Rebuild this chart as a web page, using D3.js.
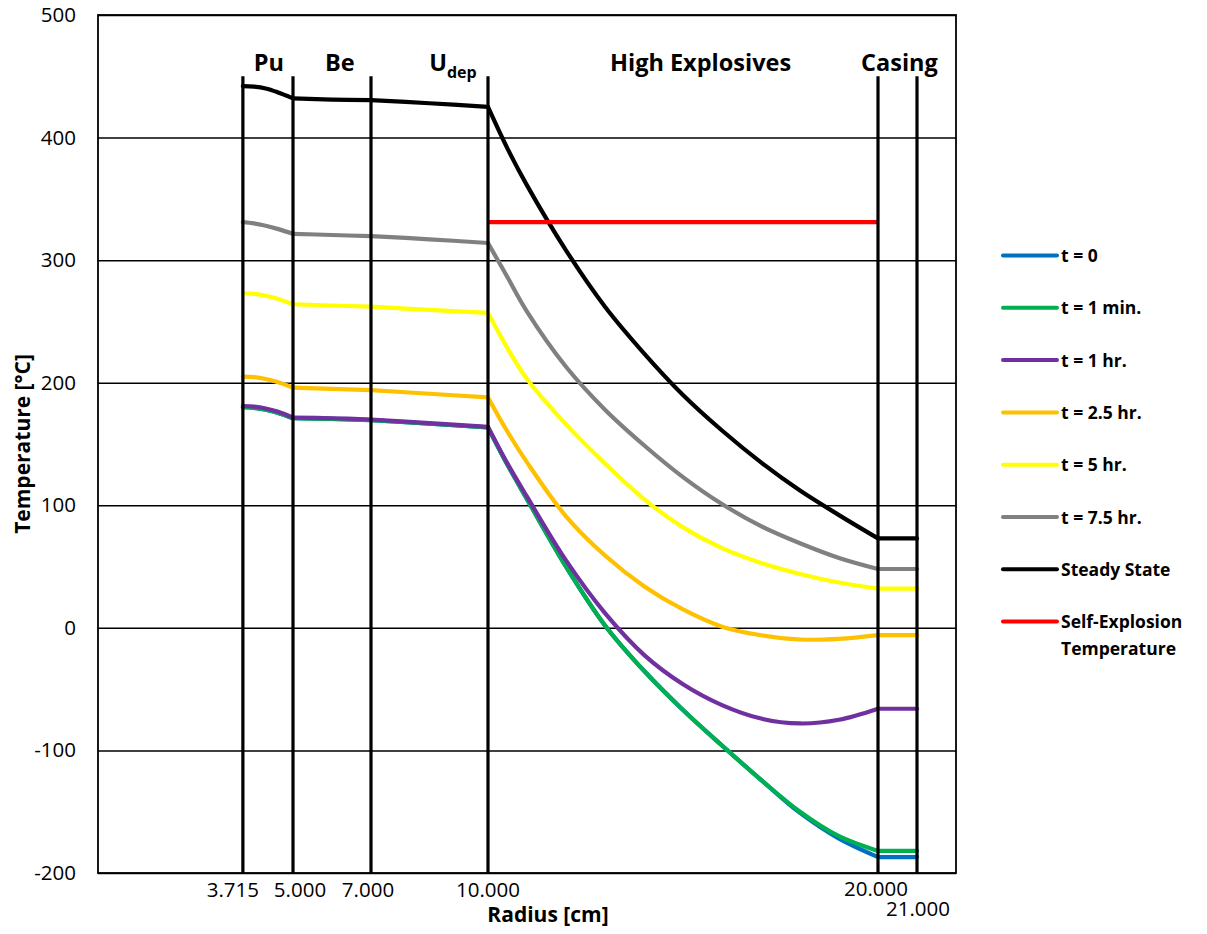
<!DOCTYPE html>
<html>
<head>
<meta charset="utf-8">
<script src="https://cdn.jsdelivr.net/npm/d3@7"></script>
<style>
    body { margin: 0; background: #fff; }
    text { font-family: "Open Sans", sans-serif; fill: #000; }
</style>
</head>
<body>
<script>

// radius sample points [cm]
var radius = [3.715, 4.0, 4.3, 4.6, 5.0, 6.0, 7.0, 8.5, 10.0, 10.5, 11, 12, 13, 14, 15, 16, 17, 18, 19, 20, 21];

// temperatures [°C]
var tZero     = [180, 179.5, 178, 175.5, 171, 170.5, 169.5, 166.5, 163.5, 133, 105, 50, 2, -35, -67, -96, -124, -151, -172, -187, -187];
var tOneMin   = [180, 179.5, 178, 175.5, 171, 170.5, 169.5, 166.5, 163.5, 133, 105, 50, 2, -35, -67, -96, -124, -150, -170, -182, -182];
var tOneHr    = [181, 180.5, 179, 176.5, 171.5, 171, 170, 167, 164, 134, 107, 55, 12, -22, -46, -63, -74, -78, -75, -66, -66];
var tTwoHalf  = [205, 204.5, 203, 200.5, 196, 195, 194, 191, 188, 160, 135, 91, 59, 34, 15, 1, -6, -9.5, -9, -6, -6];
var tFiveHr   = [273, 272.5, 271, 268.5, 264, 263, 262, 259.5, 257, 228, 203, 166, 134, 105, 82, 65, 53, 44, 37, 32, 32];
var tSevenHalf= [331, 330, 328, 325.5, 321.5, 320.5, 319.6, 317, 314, 286, 258, 213, 178, 149, 123, 101, 83, 69, 57, 48, 48];
var tSteady   = [442, 441.5, 440, 437, 432, 431, 430.5, 428, 425, 391, 361, 308, 262, 224, 190, 161, 135, 112, 92, 73, 73];

var selfExplRadius = [10, 20];
var selfExplTemp = [331, 331];

// material boundaries
var boundaries = [3.715, 5.0, 7.0, 10.0, 20.0, 21.0];
var boundaryTop = 450;
var materialNames = ['Pu', 'Be', 'U', 'High Explosives', 'Casing'];
var materialSubs = ['', '', 'dep', '', ''];
var materialAt = [4.38, 6.2, 9.1, 15.45, 20.55];

var yTicks = [-200, -100, 0, 100, 200, 300, 400, 500];

var seriesNames = ['t = 0', 't = 1 min.', 't = 1 hr.', 't = 2.5 hr.', 't = 5 hr.', 't = 7.5 hr.', 'Steady State', 'Self-Explosion Temperature'];
var seriesColors = ['#0070C0', '#00B050', '#7030A0', '#FFC000', '#FFFF00', '#808080', '#000000', '#FF0000'];
var seriesValues = [tZero, tOneMin, tOneHr, tTwoHalf, tFiveHr, tSevenHalf, tSteady];

var W = 1207, H = 934;
var plot = { left: 98, right: 956, top: 15, bottom: 873 };

var svg = d3.select('body').append('svg')
    .attr('width', W)
    .attr('height', H);

var x = d3.scaleLinear().domain([0, 22]).range([plot.left, plot.right]);
var y = d3.scaleLinear().domain([-200, 500]).range([plot.bottom, plot.top]);

//그리드 + y축
var yAxis = d3.axisLeft(y)
    .tickValues(yTicks)
    .tickFormat(function(d) { return String(d); })
    .tickSize(-(plot.right - plot.left))
    .tickSizeOuter(0)
    .tickPadding(22);

var gy = svg.append('g')
    .attr('transform', 'translate(' + plot.left + ',0)')
    .call(yAxis);
gy.select('.domain').remove();
gy.selectAll('line').attr('stroke', '#000').attr('stroke-width', 1.5);
gy.selectAll('text')
    .style('font-family', '"Open Sans", sans-serif')
    .style('font-size', '20.5px')
    .attr('fill', '#000');

// plot box
svg.append('rect')
    .attr('x', plot.left)
    .attr('y', plot.top)
    .attr('width', plot.right - plot.left)
    .attr('height', plot.bottom - plot.top)
    .attr('fill', 'none')
    .attr('stroke', '#000')
    .attr('stroke-width', 1.8);

// data lines, drawn region by region so kinks at boundaries stay sharp
var line = d3.line()
    .x(function(d) { return x(d[0]); })
    .y(function(d) { return y(d[1]); })
    .curve(d3.curveCatmullRom.alpha(0.5));

function segments(vals) {
    var segs = [];
    for (var b = 0; b < boundaries.length - 1; b++) {
        var pts = [];
        radius.forEach(function(r, i) {
            if (r >= boundaries[b] - 1e-9 && r <= boundaries[b + 1] + 1e-9) pts.push([r, vals[i]]);
        });
        segs.push(pts);
    }
    return segs;
}

var gLines = svg.append('g');
seriesValues.forEach(function(vals, si) {
    gLines.append('g')
        .selectAll('path')
        .data(segments(vals))
        .enter().append('path')
        .attr('d', line)
        .attr('fill', 'none')
        .attr('stroke', seriesColors[si])
        .attr('stroke-width', 4.2)
        .attr('stroke-linecap', 'round')
        .attr('stroke-linejoin', 'round');
});

gLines.append('path')
    .datum(selfExplRadius.map(function(r, i) { return [r, selfExplTemp[i]]; }))
    .attr('d', d3.line().x(function(d) { return x(d[0]); }).y(function(d) { return y(d[1]); }))
    .attr('fill', 'none')
    .attr('stroke', seriesColors[7])
    .attr('stroke-width', 4.2);

// material boundary lines
svg.append('g')
    .selectAll('line')
    .data(boundaries)
    .enter().append('line')
    .attr('x1', function(d) { return x(d); })
    .attr('x2', function(d) { return x(d); })
    .attr('y1', y(-200))
    .attr('y2', y(boundaryTop))
    .attr('stroke', '#000')
    .attr('stroke-width', 3.2);

// material names
var gMat = svg.append('g');
materialNames.forEach(function(name, i) {
    var t = gMat.append('text')
        .attr('x', x(materialAt[i]))
        .attr('y', 71)
        .attr('text-anchor', 'middle')
        .style('font-size', '23.5px')
        .style('font-weight', 'bold')
        .text(name);
    if (materialSubs[i]) {
        t.append('tspan')
            .attr('dy', 7)
            .style('font-size', '16px')
            .text(materialSubs[i]);
    }
});

// radius labels (Excel data labels, nudged where they collide)
var labelNudge = { 0: [-10, 0], 1: [7, 0], 2: [-3, 0], 4: [-2, -1], 5: [1, 19] };
svg.append('g')
    .selectAll('text')
    .data(boundaries)
    .enter().append('text')
    .attr('x', function(d, i) { return x(d) + (labelNudge[i] ? labelNudge[i][0] : 0); })
    .attr('y', function(d, i) { return 897 + (labelNudge[i] ? labelNudge[i][1] : 0); })
    .attr('text-anchor', 'middle')
    .style('font-size', '20.5px')
    .text(function(d) { return d3.format('.3f')(d); });

// axis titles
svg.append('text')
    .attr('x', 548)
    .attr('y', 922)
    .attr('text-anchor', 'middle')
    .style('font-size', '21px')
    .style('font-weight', 'bold')
    .text('Radius [cm]');

svg.append('text')
    .attr('transform', 'translate(30,444) rotate(-90)')
    .attr('text-anchor', 'middle')
    .style('font-size', '21px')
    .style('font-weight', 'bold')
    .text('Temperature [°C]');

// legend
var legend = svg.append('g').attr('transform', 'translate(1003,255.5)');
seriesNames.forEach(function(name, i) {
    var row = legend.append('g').attr('transform', 'translate(0,' + (i * 52.3) + ')');
    row.append('line')
        .attr('x1', 0).attr('x2', 54)
        .attr('y1', 0).attr('y2', 0)
        .attr('stroke', seriesColors[i])
        .attr('stroke-width', 4)
        .attr('stroke-linecap', 'round');
    var words = name === 'Self-Explosion Temperature' ? ['Self-Explosion', 'Temperature'] : [name];
    words.forEach(function(w, k) {
        row.append('text')
            .attr('x', 58)
            .attr('y', 6.5 + k * 27)
            .style('font-size', '17.5px')
            .style('font-weight', 'bold')
            .text(w);
    });
});

</script>
</body>
</html>
